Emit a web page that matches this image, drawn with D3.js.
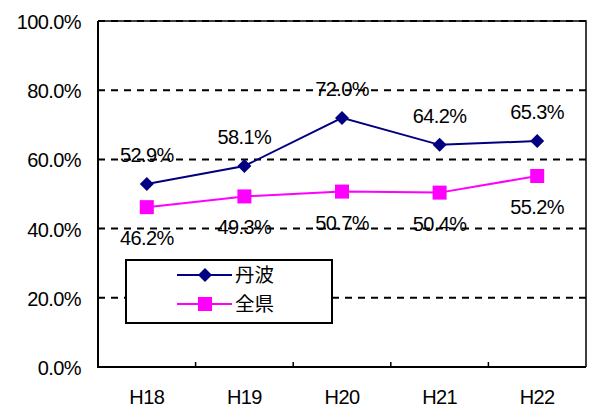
<!DOCTYPE html>
<html><head><meta charset="utf-8">
<script src="https://cdn.jsdelivr.net/npm/d3@7"></script>
<style>body{margin:0;background:#fff}svg{display:block}</style>
</head><body>
<svg id="c" width="590" height="408"></svg>
<script>
const categories = ["H18","H19","H20","H21","H22"];
const tanba = [52.9, 58.1, 72.0, 64.2, 65.3];
const zenken = [46.2, 49.3, 50.7, 50.4, 55.2];
const yTicks = [0,20,40,60,80,100];
const seriesNames = ["丹波","全県"];

const svg = d3.select("#c");
const L=98,R=586,T=21,B=367;
const x = d3.scaleBand().domain(categories).range([L,R]);
const y = d3.scaleLinear().domain([0,100]).range([B,T]);
const font = "Liberation Sans, Arial, sans-serif";
const fs = 20, ls = -0.6;

// grid
svg.append("g").selectAll("line").data(yTicks.filter(d=>d>0)).join("line")
  .attr("x1",L).attr("x2",R).attr("y1",d=>y(d)).attr("y2",d=>y(d))
  .attr("stroke","#000").attr("stroke-width",2).attr("stroke-dasharray","7,6");
// border
svg.append("path").attr("d",`M${L},${T}H${R}V${B}`).attr("fill","none").attr("stroke","#000").attr("stroke-width",1.5);
svg.append("path").attr("d",`M${L},${T}V${B}H${R}`).attr("fill","none").attr("stroke","#000").attr("stroke-width",2);
// y labels
svg.append("g").selectAll("text").data(yTicks).join("text")
  .attr("x",81).attr("y",d=>y(d)+8).attr("text-anchor","end")
  .attr("font-family",font).attr("font-size",fs).attr("letter-spacing",ls).text(d=>d.toFixed(1)+"%");
// x ticks
svg.append("g").selectAll("line").data(categories.slice(1)).join("line")
  .attr("x1",d=>x(d)).attr("x2",d=>x(d)).attr("y1",B).attr("y2",B-5)
  .attr("stroke","#000").attr("stroke-width",1.5);
svg.append("g").selectAll("text").data(categories).join("text")
  .attr("x",d=>x(d)+x.bandwidth()/2).attr("y",404).attr("text-anchor","middle")
  .attr("font-family",font).attr("font-size",fs).attr("letter-spacing",ls).text(d=>d);

const cx = d=>x(d)+x.bandwidth()/2;
const line = d3.line().x(d=>cx(d.c)).y(d=>y(d.v));
const s1 = categories.map((c,i)=>({c,v:tanba[i]}));
const s2 = categories.map((c,i)=>({c,v:zenken[i]}));
svg.append("path").datum(s2).attr("d",line).attr("fill","none").attr("stroke","#ff00ff").attr("stroke-width",2);
svg.append("path").datum(s1).attr("d",line).attr("fill","none").attr("stroke","#000080").attr("stroke-width",2);
const diamond = "M0,-7L7,0L0,7L-7,0Z";
svg.append("g").selectAll("path").data(s2).join("rect")
  .attr("x",d=>cx(d.c)-7).attr("y",d=>y(d.v)-7).attr("width",14).attr("height",14).attr("fill","#ff00ff");
svg.append("g").selectAll("path").data(s1).join("path")
  .attr("d",diamond).attr("transform",d=>`translate(${cx(d.c)},${y(d.v)})`).attr("fill","#000080");
// labels
svg.append("g").selectAll("text").data(s1).join("text")
  .attr("x",d=>cx(d.c)).attr("y",d=>y(d.v)-22).attr("text-anchor","middle")
  .attr("font-family",font).attr("font-size",fs).attr("letter-spacing",ls).text(d=>d.v.toFixed(1)+"%");
svg.append("g").selectAll("text").data(s2).join("text")
  .attr("x",d=>cx(d.c)).attr("y",d=>y(d.v)+38).attr("text-anchor","middle")
  .attr("font-family",font).attr("font-size",fs).attr("letter-spacing",ls).text(d=>d.v.toFixed(1)+"%");

// legend
const lg = svg.append("g");
lg.append("rect").attr("x",126).attr("y",260).attr("width",206).attr("height",63).attr("fill","#fff").attr("stroke","#000").attr("stroke-width",2);
const rows=[275,304];
lg.append("line").attr("x1",177).attr("x2",232).attr("y1",rows[0]).attr("y2",rows[0]).attr("stroke","#000080").attr("stroke-width",2);
lg.append("path").attr("d",diamond).attr("transform",`translate(205,${rows[0]})`).attr("fill","#000080");
lg.append("line").attr("x1",177).attr("x2",232).attr("y1",rows[1]).attr("y2",rows[1]).attr("stroke","#ff00ff").attr("stroke-width",2);
lg.append("rect").attr("x",198).attr("y",rows[1]-7).attr("width",14).attr("height",14).attr("fill","#ff00ff");
lg.selectAll("text").data(seriesNames).join("text")
  .attr("x",235).attr("y",(d,i)=>rows[i]+7).attr("font-family","Noto Sans CJK JP, sans-serif").attr("font-size",19.5).text(d=>d);
</script>
</body></html>
